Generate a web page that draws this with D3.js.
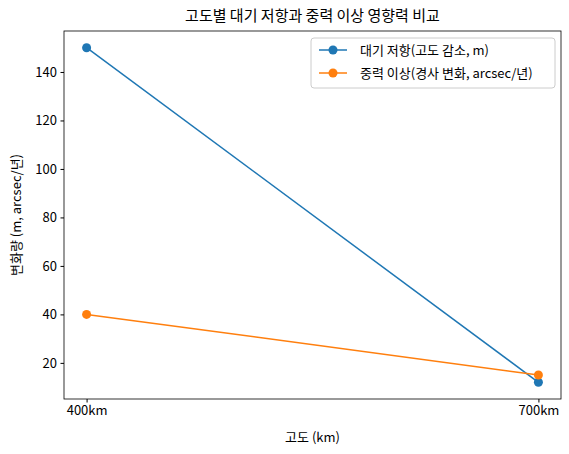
<!DOCTYPE html><html><head><meta charset="utf-8"><script src="https://cdn.jsdelivr.net/npm/d3@7"></script>
<style>body{margin:0;background:#fff}text{font-family:"Noto Sans CJK KR","DejaVu Sans",sans-serif}</style></head><body><svg id="c" width="569" height="454"></svg>
<script>
const categories=["400km","700km"];
const dragValues=[150,12];
const gravityValues=[40,15];
const yTicks=[20,40,60,80,100,120,140];
const seriesNames=["대기 저항(고도 감소, m)","중력 이상(경사 변화, arcsec/년)"];
const colors=["#1f77b4","#ff7f0e"];
const L=64,R=561,T=31,B=399;
const svg=d3.select("#c");
const x=d3.scaleLinear().domain([-0.05,1.05]).range([L,R]);
const y=d3.scaleLinear().domain([5.1,156.9]).range([B,T]);
const g=svg.append("g");
g.append("g").attr("transform",`translate(0,${B})`).call(d3.axisBottom(x).tickValues([0,1]).tickFormat(i=>categories[i]).tickSize(3.5).tickPadding(3.5));
g.append("g").attr("transform",`translate(${L},0)`).call(d3.axisLeft(y).tickValues(yTicks).tickSize(3.5).tickPadding(3.5));
g.selectAll(".domain").remove();
g.selectAll("text").attr("font-size",13).attr("fill","#000");
svg.append("rect").attr("x",L).attr("y",T).attr("width",R-L).attr("height",B-T).attr("fill","none").attr("stroke","#000").attr("stroke-width",0.8);
[dragValues,gravityValues].forEach((vals,k)=>{
 svg.append("path").attr("d",d3.line().x((d,i)=>x(i)).y(d=>y(d))(vals)).attr("fill","none").attr("stroke",colors[k]).attr("stroke-width",1.5);
 svg.selectAll(null).data(vals).enter().append("circle").attr("cx",(d,i)=>x(i)).attr("cy",d=>y(d)).attr("r",4.5).attr("fill",colors[k]);
});
svg.append("text").attr("x",(L+R)/2).attr("y",21).attr("text-anchor","middle").attr("font-size",15).text("고도별 대기 저항과 중력 이상 영향력 비교");
svg.append("text").attr("x",(L+R)/2).attr("y",442).attr("text-anchor","middle").attr("font-size",13).text("고도 (km)");
svg.append("text").attr("transform",`translate(21,${(T+B)/2}) rotate(-90)`).attr("text-anchor","middle").attr("font-size",13).text("변화량 (m, arcsec/년)");
const lg=svg.append("g");
lg.append("rect").attr("x",311).attr("y",38).attr("width",244).attr("height",50).attr("rx",3).attr("fill","#fff").attr("stroke","#ccc");
seriesNames.forEach((n,k)=>{
 const yy=50+k*23;
 lg.append("line").attr("x1",319).attr("x2",347).attr("y1",yy).attr("y2",yy).attr("stroke",colors[k]).attr("stroke-width",1.5);
 lg.append("circle").attr("cx",333).attr("cy",yy).attr("r",4.5).attr("fill",colors[k]);
 lg.append("text").attr("x",360).attr("y",yy+4.5).attr("font-size",13).text(n);
});
</script></body></html>
